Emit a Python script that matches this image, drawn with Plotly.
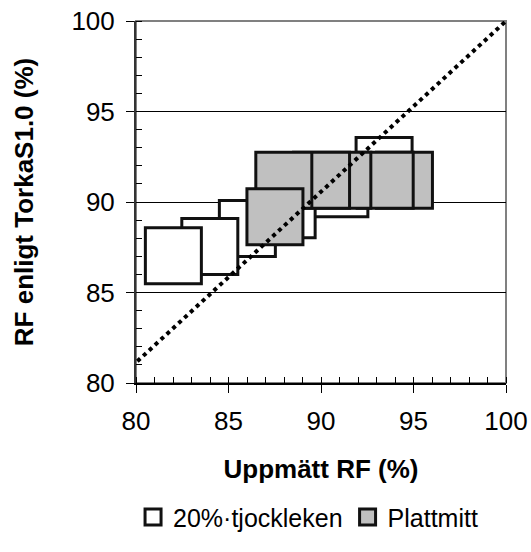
import plotly.graph_objects as go

# Data
white_x = [93.41, 91.02, 88.17, 86.02, 83.99, 82.02]
white_y = [92.02, 90.73, 89.57, 88.54, 87.54, 87.03]
gray_x = [94.51, 93.47, 91.18, 90.03, 87.99, 87.51]
gray_y = [91.20, 91.20, 91.20, 91.20, 91.20, 89.19]
line_x = [78.8, 100]
line_y = [80, 100]
x_ticks = [80, 85, 90, 95, 100]
y_ticks = [80, 85, 90, 95, 100]
series_names = ["20%·tjockleken", "Plattmitt"]

FONT = "Liberation Sans, Arial, sans-serif"

fig = go.Figure()
fig.add_trace(go.Scatter(
    x=white_x, y=white_y, mode="markers", name=series_names[0],
    marker=dict(symbol="square", size=56, color="white",
                line=dict(color="#111111", width=3)),
))
fig.add_trace(go.Scatter(
    x=gray_x, y=gray_y, mode="markers", name=series_names[1],
    marker=dict(symbol="square", size=56, color="#c0c0c0",
                line=dict(color="#111111", width=3)),
))

# diagonal dotted line
fig.add_shape(type="line", xref="x", yref="y",
              x0=line_x[0], y0=line_y[0], x1=line_x[1], y1=line_y[1],
              line=dict(color="black", width=4, dash="dot"), layer="above")
# gray plot-area border (top/right)
fig.add_shape(type="rect", xref="x domain", yref="y domain",
              x0=0, y0=0, x1=1, y1=1,
              line=dict(color="#808080", width=2), layer="below")

fig.update_layout(
    width=531, height=552,
    margin=dict(l=136, r=25, t=21, b=169, autoexpand=False),
    paper_bgcolor="white", plot_bgcolor="white",
    font=dict(family=FONT, size=26, color="black"),
    showlegend=True,
    legend=dict(orientation="h", x=0.465, xanchor="center",
                yref="container", y=0.063, yanchor="middle",
                font=dict(size=25), itemsizing="trace",
                tracegroupgap=0, itemwidth=30),
)
fig.update_xaxes(
    range=[80, 100], tickvals=x_ticks, ticktext=[str(v) for v in x_ticks],
    showgrid=False, zeroline=False, automargin=False,
    showline=True, linecolor="black", linewidth=2,
    ticks="outside", ticklen=8, tickwidth=1, tickcolor="black",
    minor=dict(dtick=1, ticks="inside", ticklen=6, tickcolor="black", tickwidth=1, showgrid=False),
    tickfont=dict(size=26), ticklabelstandoff=6,
    title=dict(text="<b>Uppmätt RF (%)</b>", font=dict(size=26), standoff=25),
)
fig.update_yaxes(
    range=[80, 100], tickvals=y_ticks, ticktext=[str(v) for v in y_ticks],
    showgrid=True, gridcolor="black", gridwidth=1, zeroline=False, automargin=False,
    showline=True, linecolor="#333333", linewidth=2,
    ticks="outside", ticklen=8, tickwidth=1, tickcolor="black",
    minor=dict(dtick=1, ticks="inside", ticklen=6, tickcolor="black", tickwidth=1, showgrid=False),
    tickfont=dict(size=26), ticklabelstandoff=6,
    title=dict(text="<b>RF enligt TorkaS1.0 (%)</b>", font=dict(size=26), standoff=30),
)

fig.write_html("out.html", config={"displayModeBar": False},
               post_script="document.body.style.margin='0';")
